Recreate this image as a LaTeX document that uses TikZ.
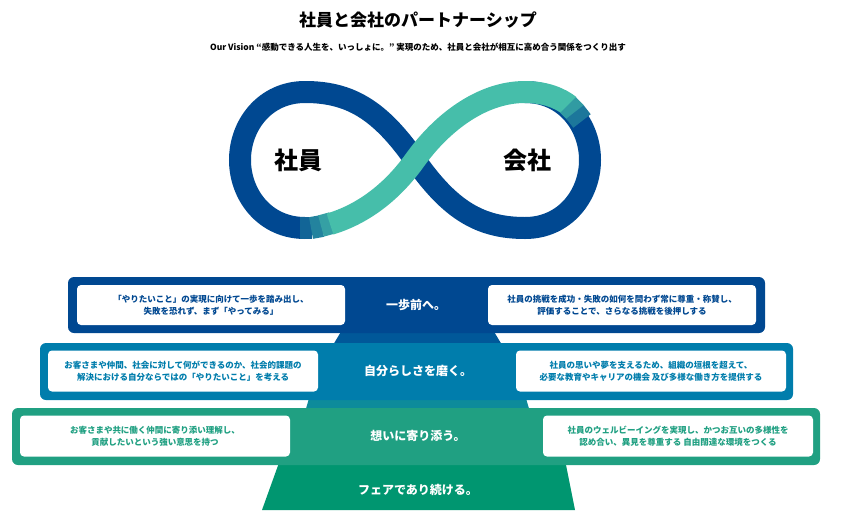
\documentclass[tikz,border=0pt]{standalone}
\usepackage{fontspec}
\setmainfont{Noto Sans CJK JP}
\definecolor{navy}{RGB}{0,72,145}
\definecolor{sea}{RGB}{0,125,172}
\definecolor{mint}{RGB}{32,160,130}
\definecolor{deep}{RGB}{0,150,112}
\definecolor{teal}{RGB}{70,190,170}
\tikzset{every picture/.style={line width=0.75pt}}
\tikzset{
  band/.style={rounded corners=6pt},
  loop/.style={line width=22pt},
  card/.style={fill=white,rounded corners=4pt,align=center,font=\bfseries\fontsize{8.5}{12}\selectfont},
  head/.style={text=white,font=\bfseries\fontsize{12}{14}\selectfont}
}
\begin{document}
\begin{tikzpicture}[x=1pt,y=-1pt]
\useasboundingbox (0,0) rectangle (841,520);

% Title
\node (title) at (418,20) {\bfseries\fontsize{17}{19}\selectfont 社員と会社のパートナーシップ};
\node (vision) at (418,47) {\bfseries\fontsize{8.5}{10}\selectfont Our Vision “感動できる人生を、いっしょに。” 実現のため、社員と会社が相互に高め合う関係をつくり出す};

% Infinity
\draw [loop,navy] (415,160) .. controls (380,110) and (350,92) .. (305,92) .. controls (265,92) and (240,125) .. (240,160) .. controls (240,195) and (265,228) .. (305,228);
\draw [loop,navy] (525,92) .. controls (565,92) and (590,125) .. (590,160) .. controls (590,195) and (565,228) .. (525,228) .. controls (480,228) and (450,210) .. (415,160);
\draw [loop,navy!75!teal] (300,228) -- (312,228);
\draw [loop,navy!50!teal] (311,228) -- (322,226);
\draw [loop,navy!25!teal] (321,226) -- (332,223);
\draw [loop,teal] (330,224) .. controls (360,215) and (390,195) .. (415,160) .. controls (440,125) and (480,92) .. (525,92) .. controls (545,92) and (560,98) .. (570,106);
\draw [loop,navy!30!teal] (568,105) -- (576,113);
\draw [loop,navy!60!teal] (575,112) -- (582,121);
\node (staff) at (298,160) {\bfseries\fontsize{24}{26}\selectfont 社員};
\node (firm) at (527,160) {\bfseries\fontsize{24}{26}\selectfont 会社};

% Pyramid
\fill [navy!70!sea] (345,325) -- (490,325) -- (502,345) -- (333,345) -- cycle;
\fill [sea!60!mint] (310,395) -- (525,395) -- (530,412) -- (305,412) -- cycle;
\fill [deep] (280,460) -- (565,460) -- (575,510) -- (262,510) -- cycle;
\node [head] (fair) at (418,490) {フェアであり続ける。};

% Band 1
\fill [band,navy] (68,277) rectangle (765,333);
\node [head] (step1) at (416,305) {一歩前へ。};
\node [card,text=navy,minimum width=268pt,minimum height=40pt] (s1l) at (211,305) {「やりたいこと」の実現に向けて一歩を踏み出し、\\失敗を恐れず、まず「やってみる」};
\node [card,text=navy,minimum width=268pt,minimum height=40pt] (s1r) at (622,305) {社員の挑戦を成功・失敗の如何を問わず常に尊重・称賛し、\\評価することで、さらなる挑戦を後押しする};

% Band 2
\fill [band,sea] (40,343) rectangle (793,400);
\node [head] (step2) at (418,371) {自分らしさを磨く。};
\node [card,text=sea,minimum width=270pt,minimum height=41pt] (s2l) at (183,371) {お客さまや仲間、社会に対して何ができるのか、社会的課題の\\解決における自分ならではの「やりたいこと」を考える};
\node [card,text=sea,minimum width=270pt,minimum height=41pt] (s2r) at (651,371) {社員の思いや夢を支えるため、組織の垣根を超えて、\\必要な教育やキャリアの機会 及び多様な働き方を提供する};

% Band 3
\fill [band,mint] (12,408) rectangle (820,465);
\node [head] (step3) at (418,436) {想いに寄り添う。};
\node [card,text=mint,minimum width=270pt,minimum height=41pt] (s3l) at (155,436) {お客さまや共に働く仲間に寄り添い理解し、\\貢献したいという強い意思を持つ};
\node [card,text=mint,minimum width=270pt,minimum height=41pt] (s3r) at (678,436) {社員のウェルビーイングを実現し、かつお互いの多様性を\\認め合い、異見を尊重する 自由闊達な環境をつくる};

\end{tikzpicture}
\end{document}
